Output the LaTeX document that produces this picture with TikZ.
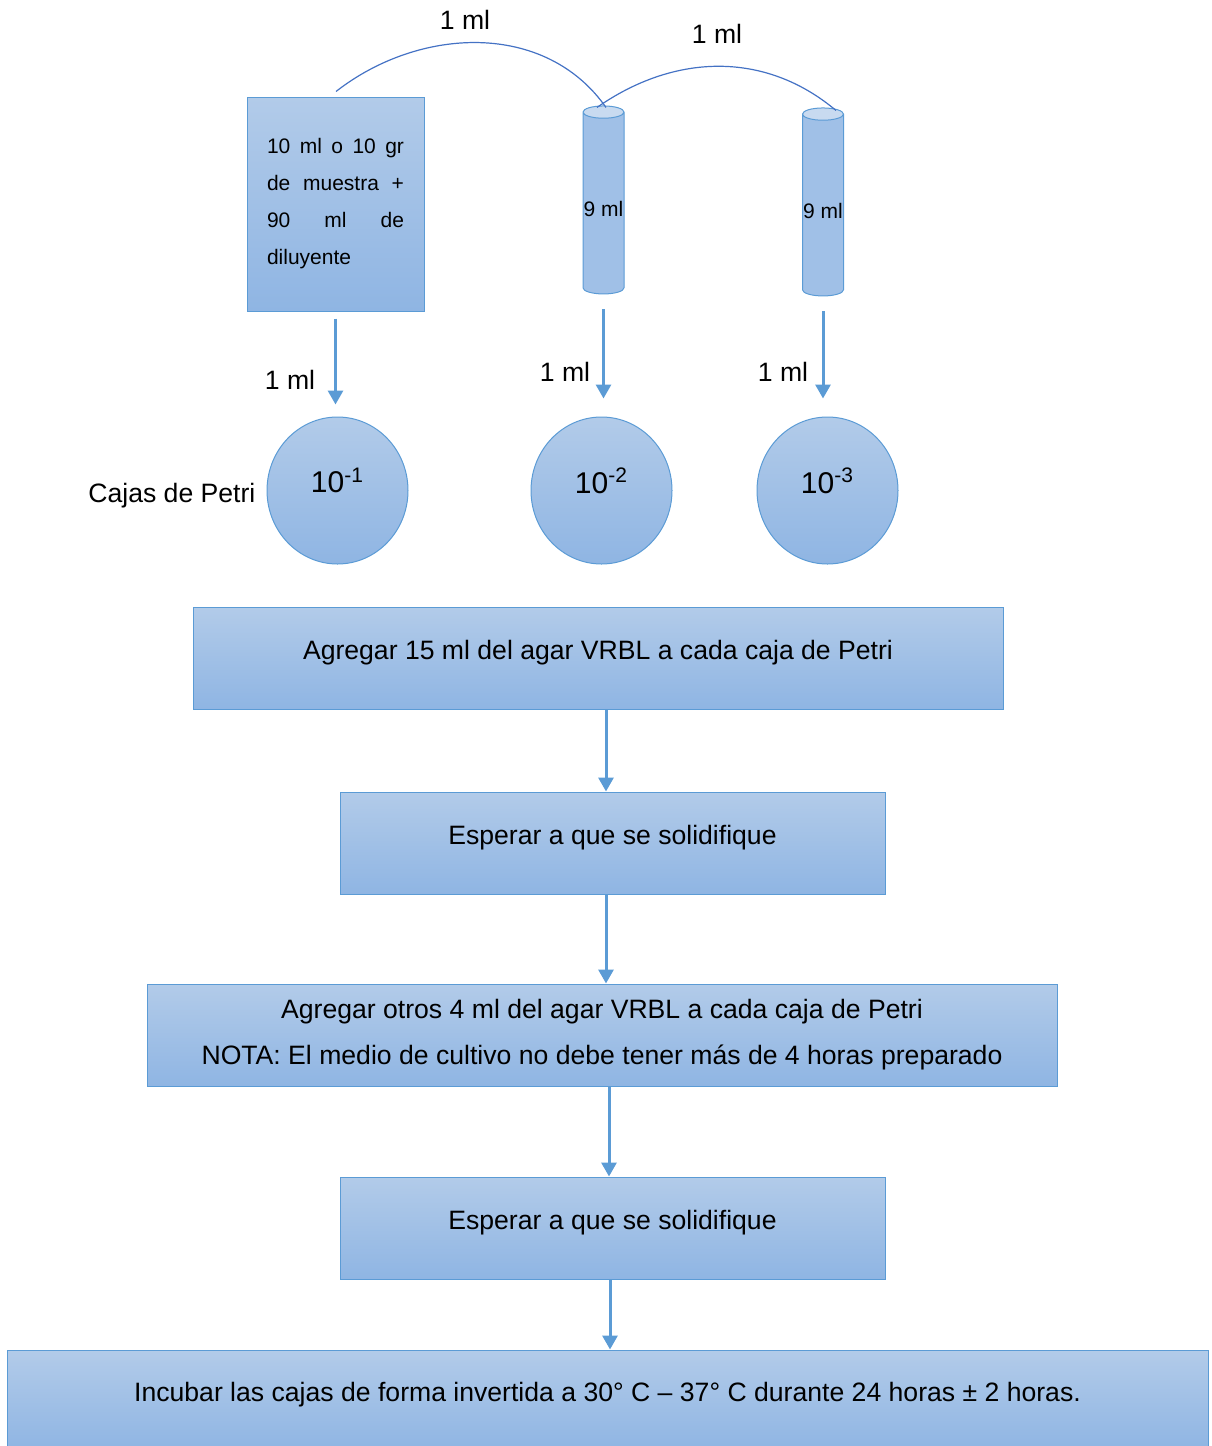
\documentclass[tikz,border=0pt]{standalone}
\usepackage{fontspec}
\setmainfont{Liberation Sans}
\usetikzlibrary{arrows.meta,positioning,shapes.geometric,calc}
\hyphenpenalty=10000
\hbadness=10000
\definecolor{edgeblue}{RGB}{91,155,213}
\definecolor{arcblue}{RGB}{68,114,196}
\definecolor{filltop}{RGB}{178,203,233}
\definecolor{fillbottom}{RGB}{143,181,227}
\definecolor{tubetop}{RGB}{200,218,240}
\definecolor{tubebody}{RGB}{160,192,231}
\tikzset{
  >={Triangle[length=7pt,width=7.5pt]},
  shaded/.style={draw=edgeblue, line width=0.5pt, top color=filltop, bottom color=fillbottom},
  flowbox/.style={shaded, rectangle, minimum height=51pt, align=center, font=\fontsize{13.3}{23}\selectfont},
  oneline/.style={text depth=7.8pt},
  flowarrow/.style={->, draw=edgeblue, line width=1.5pt},
  transfer/.style={draw=arcblue, line width=0.6pt},
  tube/.style={cylinder, shape border rotate=90, draw=edgeblue, line width=0.5pt,
    cylinder uses custom fill, cylinder end fill=tubetop, cylinder body fill=tubebody,
    minimum width=20.5pt, minimum height=94pt, aspect=0.3, inner xsep=0.3pt, inner ysep=0pt,
    text height=12.6pt, font=\fontsize{10.5}{12}\selectfont},
  petri/.style={ellipse, shaded, minimum width=70.5pt, minimum height=73.5pt,
    text depth=10pt, font=\fontsize{15}{18}\selectfont},
  mltext/.style={font=\fontsize{13.3}{15}\selectfont}
}
\begin{document}
\begin{tikzpicture}[x=0.5pt, y=0.5pt]
    \useasboundingbox (0,0) rectangle (1211,-1446);

    % muestra, tubos y cajas de Petri
    \node[shaded, rectangle, text width=68.5pt, inner xsep=10pt, minimum height=107pt,
        align=justify, font=\fontsize{10.5}{18.5}\selectfont] (bottle) at (335.5,-204)
        {10 ml o 10 gr\linebreak de muestra +\linebreak 90 ml de\linebreak diluyente};
    \node[tube] (tube-1) at (603.5,-204) {9 ml};
    \node[tube] (tube-2) at (823,-206) {9 ml};
    \foreach[count=\i] \px in {337.5,601.5,827.5} {
        \node[petri] (petri-\i) at (\px,-490.5) {10\textsuperscript{-\i}};
    }
    \node[mltext, left=2pt of petri-1, yshift=-2.5pt] (cajas) {Cajas de Petri};

    \node[mltext] (ml-a) at (465,-20) {1 ml};
    \node[mltext] (ml-b) at (717,-34) {1 ml};
    \node[mltext] (ml-1) at (290,-380) {1 ml};
    \node[mltext] (ml-2) at (565,-372) {1 ml};
    \node[mltext] (ml-3) at (783,-372) {1 ml};

    \draw[transfer] ($(bottle.north)+(0.5,5)$) to[out=38,in=125] ($(tube-1.north)+(2.5,-2)$);
    \draw[transfer] ($(tube-1.north)+(-6.5,-2)$) to[out=35,in=140] ($(tube-2.north)+(13,-3)$);

    \draw[flowarrow, shorten <=3.5pt, shorten >=6pt] (bottle.south) -- (bottle.south |- petri-1.north);
    \foreach \t/\p in {tube-1/petri-2, tube-2/petri-3} {
        \draw[flowarrow, shorten <=7.5pt, shorten >=9pt] (\t.south) -- (\t.south |- \p.north);
    }

    % pasos
    \node[flowbox, oneline, minimum width=405pt] (box-1) at (598,-658) {Agregar 15 ml del agar VRBL a cada caja de Petri};
    \node[flowbox, oneline, minimum width=272.5pt] (box-2) at (612.5,-843) {Esperar a que se solidifique};
    \node[flowbox, minimum width=455pt] (box-3) at (602,-1035)
        {Agregar otros 4 ml del agar VRBL a cada caja de Petri\\NOTA: El medio de cultivo no debe tener más de 4 horas preparado};
    \node[flowbox, oneline, minimum width=272.5pt] (box-4) at (612.5,-1228) {Esperar a que se solidifique};
    \node[flowbox, oneline, minimum width=600.5pt, minimum height=50pt] (box-5) at (607.5,-1400)
        {Incubar las cajas de forma invertida a 30° C – 37° C durante 24 horas ± 2 horas.};

    \foreach \a/\b/\x in {box-1/box-2/606, box-2/box-3/606, box-3/box-4/609, box-4/box-5/610} {
        \coordinate (col) at (\x,0);
        \draw[flowarrow] (\a.south -| col) -- (\b.north -| col);
    }

\end{tikzpicture}
\end{document}
